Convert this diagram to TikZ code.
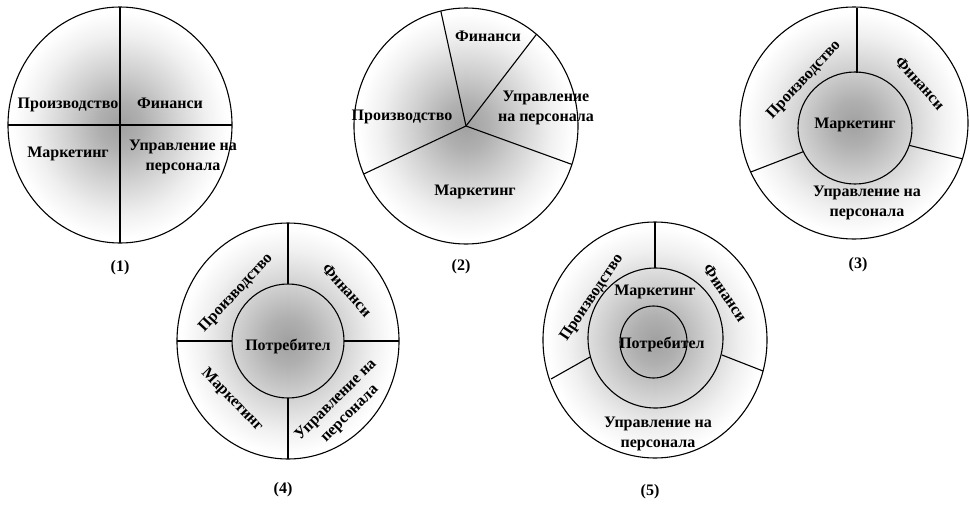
\documentclass[tikz,border=0pt]{standalone}
\usepackage{fontspec}
\setmainfont{Liberation Serif}
\usetikzlibrary{calc}
\pgfdeclareradialshading{disc}{\pgfpoint{0bp}{0bp}}{color(0bp)=(black!37); color(5bp)=(black!31); color(12bp)=(black!18); color(19bp)=(black!6); color(24bp)=(white); color(50bp)=(white)}
\begin{document}
\begin{tikzpicture}[x=1pt,y=-1pt,
  lbl/.style={font=\fontsize{16}{19.5}\selectfont\bfseries, inner sep=0pt, align=center},
  seg/.style={line width=1.1pt},
  ring/.style={line width=1.1pt}]
\useasboundingbox (0,0) rectangle (970,504);

% ---------- (1)
\coordinate (c1) at (120,125);
\shade[shading=disc] (c1) ellipse [x radius=112pt, y radius=118pt];
\draw[seg] ($(c1)+(90:112pt and 118pt)$) -- ($(c1)+(270:112pt and 118pt)$);
\draw[seg] ($(c1)+(180:112pt and 118pt)$) -- ($(c1)+(0:112pt and 118pt)$);
\draw[ring] (c1) ellipse [x radius=112pt, y radius=118pt];
\node[lbl] (a1) at (68,105) {Производство};
\node[lbl] (a2) at (170,103) {Финанси};
\node[lbl] (a3) at (68,154) {Маркетинг};
\node[lbl] (a4) at (183,157) {Управление на\\персонала};
\node[lbl] (t1) at (120,268) {(1)};

% ---------- (2)
\coordinate (c2) at (466,126);
\shade[shading=disc] (c2) ellipse [x radius=112pt, y radius=118pt];
\draw[seg] (c2) -- ($(c2)+(103:112pt and 118pt)$);
\draw[seg] (c2) -- ($(c2)+(51:112pt and 118pt)$);
\draw[seg] (c2) -- ($(c2)+(-19:112pt and 118pt)$);
\draw[seg] (c2) -- ($(c2)+(204:112pt and 118pt)$);
\draw[ring] (c2) ellipse [x radius=112pt, y radius=118pt];
\node[lbl] (b1) at (488,36) {Финанси};
\node[lbl] (b2) at (546,108) {Управление\\на персонала};
\node[lbl] (b3) at (402,117) {Производство};
\node[lbl] (b4) at (475,192) {Маркетинг};
\node[lbl] (t2) at (461,267) {(2)};

% ---------- (3)
\coordinate (c3) at (854,123);
\coordinate (c3i) at (855,128);
\shade[shading=disc] (c3) ellipse [x radius=114pt, y radius=116pt];
\draw[seg] (857,73) -- (857,8);
\draw[seg] ($(c3i)+(-18:57pt and 56pt)$) -- ($(c3)+(-18:114pt and 116pt)$);
\draw[seg] ($(c3i)+(205:57pt and 56pt)$) -- ($(c3)+(205:114pt and 116pt)$);
\draw[ring] (c3i) ellipse [x radius=57pt, y radius=56pt];
\draw[ring] (c3) ellipse [x radius=114pt, y radius=116pt];
\node[lbl, rotate=47] (d1) at (804,80) {Производство};
\node[lbl, rotate=-48] (d2) at (920,83) {Финанси};
\node[lbl] (d3) at (855,125) {Маркетинг};
\node[lbl] (d4) at (867,203) {Управление на\\персонала};
\node[lbl] (t3) at (858,265) {(3)};

% ---------- (4)
\coordinate (c4) at (288,341);
\shade[shading=disc] (c4) ellipse [x radius=111pt, y radius=118pt];
\draw[seg] ($(c4)+(90:56pt and 57pt)$) -- ($(c4)+(90:111pt and 118pt)$);
\draw[seg] ($(c4)+(270:56pt and 57pt)$) -- ($(c4)+(270:111pt and 118pt)$);
\draw[seg] ($(c4)+(0:56pt and 57pt)$) -- ($(c4)+(0:111pt and 118pt)$);
\draw[seg] ($(c4)+(180:56pt and 57pt)$) -- ($(c4)+(180:111pt and 118pt)$);
\draw[ring] (c4) ellipse [x radius=56pt, y radius=57pt];
\draw[ring] (c4) ellipse [x radius=111pt, y radius=118pt];
\node[lbl, rotate=47] (e1) at (236,293) {Производство};
\node[lbl, rotate=-48] (e2) at (347,290) {Финанси};
\node[lbl, rotate=-46] (e3) at (232,400) {Маркетинг};
\node[lbl, rotate=45] (e4) at (343,407) {Управление на\\персонала};
\node[lbl] (e5) at (288,346) {Потребител};
\node[lbl] (t4) at (283,490) {(4)};

% ---------- (5)
\coordinate (c5) at (655,340);
\coordinate (c5m) at (655.5,338);
\coordinate (c5i) at (653.5,342);
\shade[shading=disc] (c5) ellipse [x radius=112pt, y radius=118pt];
\draw[seg] (655,268) -- (655,222);
\draw[seg] (722,355) -- (763,371);
\draw[seg] (590,357) -- (551,379);
\draw[ring] (c5m) ellipse [x radius=67.5pt, y radius=70pt];
\draw[ring] (c5i) ellipse [x radius=33.5pt, y radius=36pt];
\draw[ring] (c5) ellipse [x radius=112pt, y radius=118pt];
\node[lbl, rotate=56] (f1) at (592,298) {Производство};
\node[lbl, rotate=-56] (f2) at (725,293) {Финанси};
\node[lbl] (f3) at (655,292) {Маркетинг};
\node[lbl] (f4) at (662,344) {Потребител};
\node[lbl] (f5) at (658,434) {Управление на\\персонала};
\node[lbl] (t5) at (650,492) {(5)};
\end{tikzpicture}
\end{document}
